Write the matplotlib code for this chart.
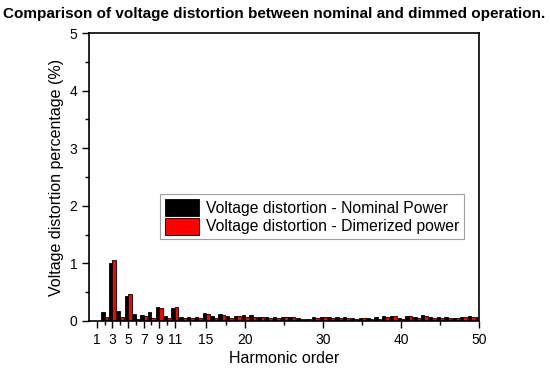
import numpy as np
import matplotlib
matplotlib.use("Agg")
import matplotlib.pyplot as plt

plt.rcParams['font.family'] = ['Liberation Sans', 'DejaVu Sans']

harmonics = list(range(2, 51))
nominal = [0.16, 1.01, 0.17, 0.43, 0.12, 0.11, 0.15, 0.24, 0.08, 0.23,
           0.07, 0.06, 0.06, 0.13, 0.08, 0.12, 0.08, 0.09, 0.11, 0.11,
           0.07, 0.06, 0.06, 0.06, 0.07, 0.05, 0.04, 0.06, 0.06, 0.07,
           0.06, 0.07, 0.05, 0.05, 0.05, 0.06, 0.09, 0.08, 0.05, 0.08,
           0.06, 0.10, 0.07, 0.06, 0.06, 0.05, 0.06, 0.08, 0.07]
dimmed = [0.07, 1.05, 0.06, 0.46, 0.04, 0.08, 0.05, 0.23, 0.05, 0.24,
          0.05, 0.05, 0.05, 0.12, 0.05, 0.10, 0.05, 0.08, 0.07, 0.07,
          0.06, 0.05, 0.05, 0.06, 0.06, 0.04, 0.04, 0.05, 0.06, 0.05,
          0.05, 0.05, 0.04, 0.05, 0.04, 0.04, 0.06, 0.08, 0.04, 0.08,
          0.05, 0.08, 0.05, 0.05, 0.05, 0.05, 0.06, 0.07, 0.07]

major_x = [1, 3, 5, 7, 9, 11, 15, 20, 30, 40, 50]
minor_x = [2, 4, 6, 8, 10, 13, 17.5, 25, 35, 45]

fig = plt.figure(figsize=(5.5, 3.71), dpi=100)
ax = fig.add_axes([0.162, 0.135, 0.709, 0.776])

h = np.array(harmonics)
w = 0.45
ax.bar(h - w, nominal, width=w, align='edge', color='black', edgecolor='black',
       linewidth=0.6, label='Voltage distortion - Nominal Power')
ax.bar(h, dimmed, width=w, align='edge', color='red', edgecolor='black',
       linewidth=0.6, label='Voltage distortion - Dimerized power')

ax.set_xlim(0, 50)
ax.set_ylim(0, 5)
ax.set_xticks(major_x)
ax.set_xticks(minor_x, minor=True)
ax.set_yticks(range(6))
ax.set_yticks(np.arange(0.5, 5, 1), minor=True)
ax.tick_params(axis='both', which='major', direction='out', length=5, width=1,
               labelsize=10, top=False, right=False)
ax.tick_params(axis='both', which='minor', direction='out', length=3, width=1,
               top=False, right=False)
for s in ax.spines.values():
    s.set_linewidth(1.2)

ax.set_xlabel('Harmonic order', fontsize=11.5, labelpad=3)
ax.set_ylabel('Voltage distortion percentage (%)', fontsize=11.5, labelpad=4)

leg = ax.legend(loc='upper left', bbox_to_anchor=(0.182, 0.44), borderaxespad=0,
                fontsize=11.3, frameon=True, fancybox=False, edgecolor='#888888',
                handlelength=2.2, handleheight=1.3, handletextpad=0.4,
                borderpad=0.3, labelspacing=0.1)
leg.get_frame().set_linewidth(0.8)

fig.text(0.005, 0.962, 'Comparison of voltage distortion between nominal and dimmed operation.',
         fontsize=11, fontweight='bold', va='center', ha='left')

fig.savefig('out.png', dpi=100)
